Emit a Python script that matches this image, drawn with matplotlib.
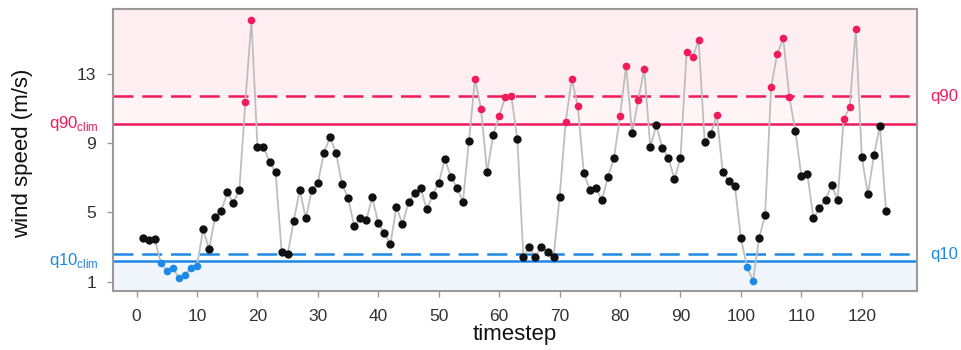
import matplotlib
matplotlib.use("Agg")
import matplotlib.pyplot as plt
import matplotlib.transforms as mtransforms
import numpy as np

plt.rcParams["font.family"] = ["Liberation Sans", "DejaVu Sans"]
plt.rcParams["mathtext.fontset"] = "custom"
plt.rcParams["mathtext.rm"] = "Liberation Sans"

# Wind speed per timestep (m/s)
timestep = list(range(1, 125))
wind_speed = [
    3.51, 3.41, 3.45, 2.10, 1.64, 1.77, 1.23, 1.39, 1.81, 1.91,
    4.03, 2.87, 4.76, 5.07, 6.16, 5.56, 6.30, 11.40, 16.12, 8.80,
    8.80, 7.90, 7.35, 2.73, 2.58, 4.52, 6.30, 4.66, 6.30, 6.72,
    8.45, 9.34, 8.45, 6.63, 5.85, 4.22, 4.66, 4.56, 5.88, 4.37,
    3.83, 3.16, 5.33, 4.32, 5.59, 6.14, 6.43, 5.18, 6.01, 6.72,
    8.09, 7.07, 6.43, 5.62, 9.15, 12.71, 10.98, 7.32, 9.47, 10.59,
    11.65, 11.75, 9.24, 2.44, 2.99, 2.44, 3.02, 2.73, 2.41, 5.91,
    10.24, 12.71, 11.17, 7.30, 6.30, 6.43, 5.72, 7.07, 8.16, 10.59,
    13.48, 9.57, 11.50, 13.29, 8.76, 10.05, 8.71, 8.16, 6.92, 8.16,
    14.25, 13.96, 14.96, 9.09, 9.52, 10.63, 7.32, 6.82, 6.53, 3.51,
    1.87, 1.04, 3.51, 4.85, 12.27, 14.15, 15.06, 11.69, 9.72, 7.11,
    7.20, 4.66, 5.24, 5.72, 6.59, 5.72, 10.38, 11.07, 15.60, 8.22,
    6.05, 8.30, 9.99, 5.10,
]

# Thresholds: local (dashed) and climatological (solid) quantiles
q90_local = 11.73
q10_local = 2.60
q90_clim = 10.12
q10_clim = 2.21

x_ticks = [0, 10, 20, 30, 40, 50, 60, 70, 80, 90, 100, 110, 120]
y_ticks = [1, 5, 9, 13]

RED = "#F01A5C"
BLUE = "#1E88E5"
GRAY_LINE = "#BEBEBE"
FRAME = "#9A9A9A"
TEXT = "#333333"

t = np.array(timestep)
v = np.array(wind_speed)

fig = plt.figure(figsize=(9.61, 3.5), dpi=100)
ax = fig.add_axes([0.1176, 0.1694, 0.8364, 0.804])

xlim = (-3.9, 129.1)
ylim = (0.48, 16.74)

# Shaded extreme regions
ax.axhspan(q90_clim, ylim[1], color="#FFF5F7", zorder=0, lw=0)
ax.axhspan(q90_local, ylim[1], color="#FFEFF3", zorder=0, lw=0)
ax.axhspan(ylim[0], q10_clim, color="#F1F6FC", zorder=0, lw=0)

# Threshold lines
ax.axhline(q90_clim, color=RED, lw=1.8, zorder=1)
ax.axhline(q10_clim, color=BLUE, lw=1.8, zorder=1)
ax.axhline(q90_local, color=RED, lw=1.8, dashes=(8, 3.5), zorder=1)
ax.axhline(q10_local, color=BLUE, lw=1.8, dashes=(8, 3.5), zorder=1)

# Series
ax.plot(t, v, color=GRAY_LINE, lw=1.3, zorder=2)
hi = v > q90_clim
lo = v < q10_clim
mid = ~(hi | lo)
ax.plot(t[mid], v[mid], "o", color="#111111", ms=6.0, mec="none", zorder=3)
ax.plot(t[hi], v[hi], "o", color=RED, ms=5.5, mec="none", zorder=3)
ax.plot(t[lo], v[lo], "o", color=BLUE, ms=5.5, mec="none", zorder=3)

ax.set_xlim(*xlim)
ax.set_ylim(*ylim)
ax.set_xticks(x_ticks)
ax.set_yticks(y_ticks)
ax.tick_params(axis="both", colors=FRAME, labelcolor=TEXT, labelsize=12.5,
               length=4, width=1)
ax.tick_params(axis="x", pad=9)
ax.tick_params(axis="y", pad=8)

for sp in ax.spines.values():
    sp.set_color(FRAME)
    sp.set_linewidth(1.5)

ax.set_xlabel("timestep", fontsize=16, color="#111111", labelpad=0)
ax.set_ylabel("wind speed (m/s)", fontsize=16, color="#111111")
ax.yaxis.set_label_coords(-0.1, 0.49)

# Threshold labels in the margins
trans = mtransforms.blended_transform_factory(ax.transAxes, ax.transData)
ax.text(-0.0175, q90_clim, r"q90$_{\rm clim}$", color=RED, fontsize=12,
        ha="right", va="center", transform=trans)
ax.text(-0.0175, q10_clim, r"q10$_{\rm clim}$", color=BLUE, fontsize=12,
        ha="right", va="center", transform=trans)
ax.text(1.017, q90_local, "q90", color=RED, fontsize=12,
        ha="left", va="center", transform=trans)
ax.text(1.017, q10_local, "q10", color=BLUE, fontsize=12,
        ha="left", va="center", transform=trans)

fig.savefig("out.png", dpi=100)
